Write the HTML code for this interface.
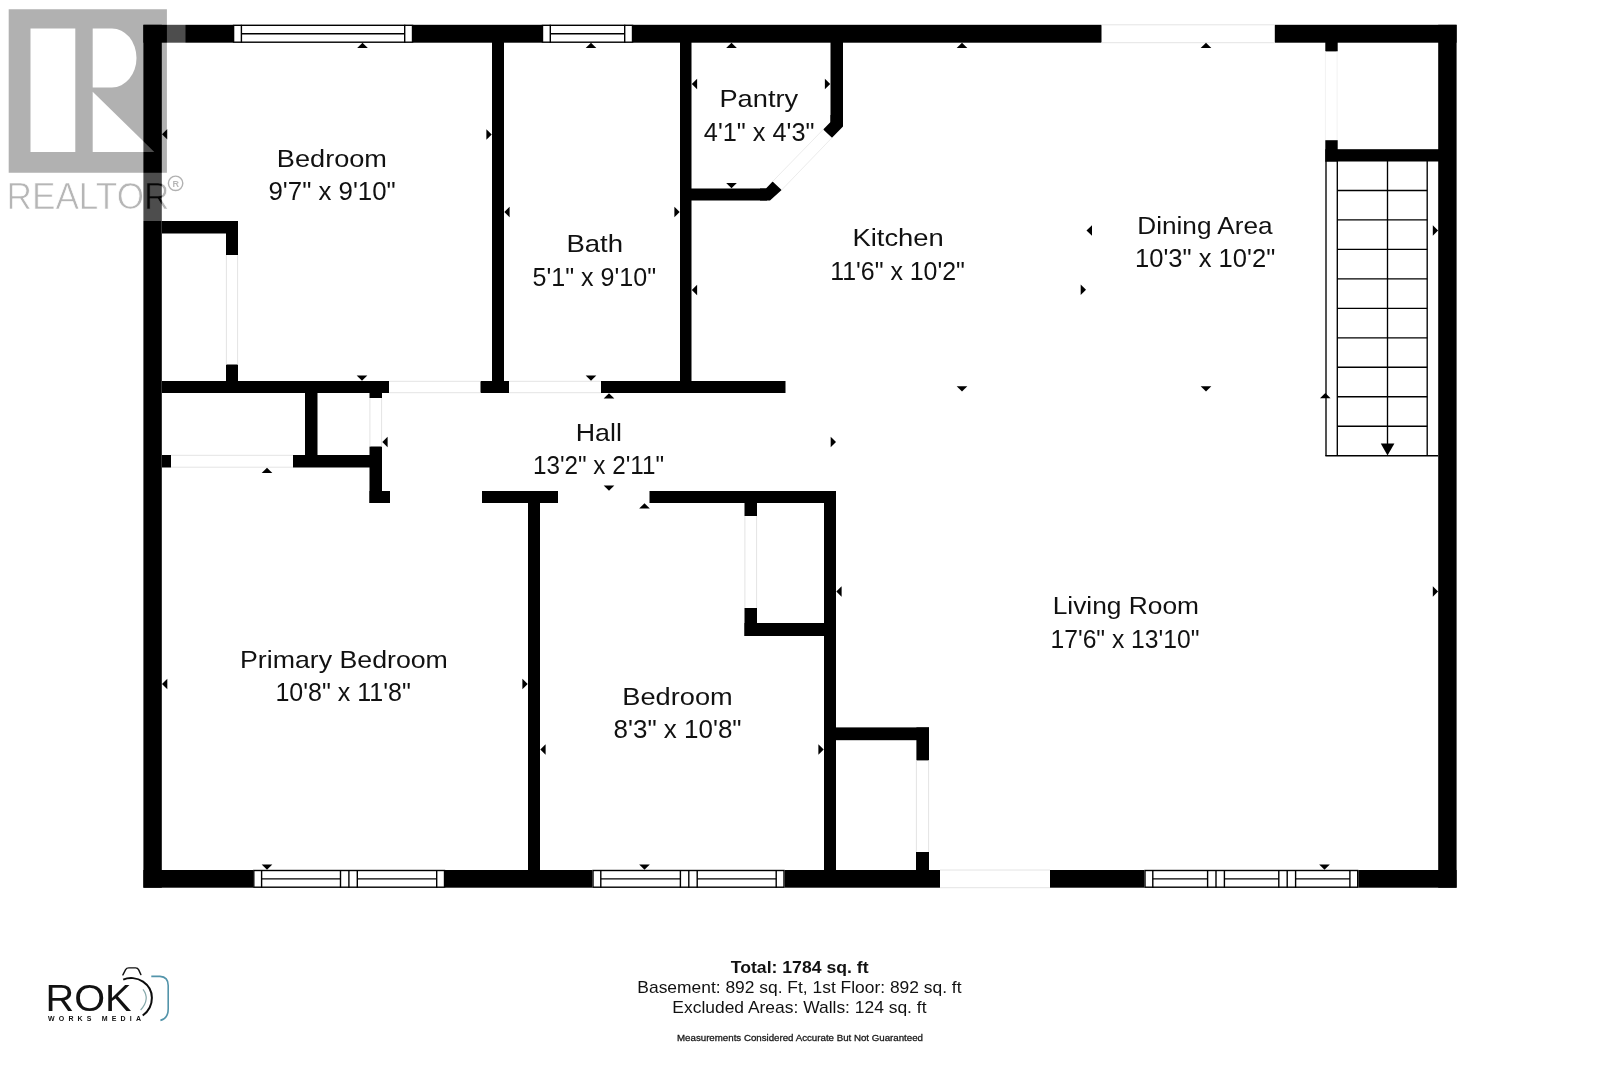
<!DOCTYPE html>
<html lang="en"><head><meta charset="utf-8"><title>Floor plan</title>
<style>
html,body{margin:0;padding:0;background:#fff;}
body{width:1600px;height:1067px;overflow:hidden;}
svg{display:block;will-change:transform;}
text{font-family:"Liberation Sans","DejaVu Sans",sans-serif;fill:#111;}
</style></head><body>
<svg width="1600" height="1067" viewBox="0 0 1600 1067">
<rect width="1600" height="1067" fill="#fff"/>
<g shape-rendering="auto">
<rect x="143.4" y="24.8" width="89.7" height="17.9" fill="#000"/>
<rect x="413" y="24.8" width="129" height="17.9" fill="#000"/>
<rect x="633" y="24.8" width="468.5" height="17.9" fill="#000"/>
<rect x="1274.8" y="24.8" width="181.8" height="17.9" fill="#000"/>
<rect x="143.4" y="870" width="109.9" height="17.7" fill="#000"/>
<rect x="445" y="870" width="147.5" height="17.7" fill="#000"/>
<rect x="784.5" y="870" width="155.5" height="17.7" fill="#000"/>
<rect x="1050" y="870" width="94.5" height="17.7" fill="#000"/>
<rect x="1358.2" y="870" width="98.4" height="17.7" fill="#000"/>
<rect x="143.4" y="24.8" width="18.4" height="862.9" fill="#000"/>
<rect x="1438.2" y="24.8" width="18.4" height="862.9" fill="#000"/>
<rect x="233.1" y="24.8" width="179.9" height="17.9" fill="#fff"/>
<rect x="233.6" y="25.3" width="178.9" height="16.9" fill="none" stroke="#000" stroke-width="1.4"/>
<line x1="241.4" y1="24.8" x2="241.4" y2="42.7" stroke="#000" stroke-width="1.4"/>
<line x1="404.7" y1="24.8" x2="404.7" y2="42.7" stroke="#000" stroke-width="1.4"/>
<line x1="241.4" y1="33.75" x2="404.7" y2="33.75" stroke="#000" stroke-width="1.4"/>
<rect x="542" y="24.8" width="91" height="17.9" fill="#fff"/>
<rect x="542.5" y="25.3" width="90" height="16.9" fill="none" stroke="#000" stroke-width="1.4"/>
<line x1="550.3" y1="24.8" x2="550.3" y2="42.7" stroke="#000" stroke-width="1.4"/>
<line x1="624.7" y1="24.8" x2="624.7" y2="42.7" stroke="#000" stroke-width="1.4"/>
<line x1="550.3" y1="33.75" x2="624.7" y2="33.75" stroke="#000" stroke-width="1.4"/>
<rect x="253.3" y="870" width="191.7" height="17.7" fill="#fff"/>
<rect x="253.8" y="870.5" width="190.7" height="16.7" fill="none" stroke="#000" stroke-width="1.4"/>
<line x1="261.6" y1="870" x2="261.6" y2="887.7" stroke="#000" stroke-width="1.4"/>
<line x1="340.5" y1="870" x2="340.5" y2="887.7" stroke="#000" stroke-width="1.4"/>
<line x1="348.9" y1="870" x2="348.9" y2="887.7" stroke="#000" stroke-width="1.4"/>
<line x1="357.3" y1="870" x2="357.3" y2="887.7" stroke="#000" stroke-width="1.4"/>
<line x1="436.7" y1="870" x2="436.7" y2="887.7" stroke="#000" stroke-width="1.4"/>
<line x1="261.6" y1="878.85" x2="340.5" y2="878.85" stroke="#000" stroke-width="1.4"/>
<line x1="357.3" y1="878.85" x2="436.7" y2="878.85" stroke="#000" stroke-width="1.4"/>
<rect x="592.5" y="870" width="192" height="17.7" fill="#fff"/>
<rect x="593" y="870.5" width="191" height="16.7" fill="none" stroke="#000" stroke-width="1.4"/>
<line x1="600.8" y1="870" x2="600.8" y2="887.7" stroke="#000" stroke-width="1.4"/>
<line x1="680.4" y1="870" x2="680.4" y2="887.7" stroke="#000" stroke-width="1.4"/>
<line x1="688.8" y1="870" x2="688.8" y2="887.7" stroke="#000" stroke-width="1.4"/>
<line x1="697.2" y1="870" x2="697.2" y2="887.7" stroke="#000" stroke-width="1.4"/>
<line x1="776.2" y1="870" x2="776.2" y2="887.7" stroke="#000" stroke-width="1.4"/>
<line x1="600.8" y1="878.85" x2="680.4" y2="878.85" stroke="#000" stroke-width="1.4"/>
<line x1="697.2" y1="878.85" x2="776.2" y2="878.85" stroke="#000" stroke-width="1.4"/>
<rect x="1144.5" y="870" width="213.7" height="17.7" fill="#fff"/>
<rect x="1145" y="870.5" width="212.7" height="16.7" fill="none" stroke="#000" stroke-width="1.4"/>
<line x1="1152.8" y1="870" x2="1152.8" y2="887.7" stroke="#000" stroke-width="1.4"/>
<line x1="1207.6" y1="870" x2="1207.6" y2="887.7" stroke="#000" stroke-width="1.4"/>
<line x1="1216" y1="870" x2="1216" y2="887.7" stroke="#000" stroke-width="1.4"/>
<line x1="1224.4" y1="870" x2="1224.4" y2="887.7" stroke="#000" stroke-width="1.4"/>
<line x1="1278.8" y1="870" x2="1278.8" y2="887.7" stroke="#000" stroke-width="1.4"/>
<line x1="1287.2" y1="870" x2="1287.2" y2="887.7" stroke="#000" stroke-width="1.4"/>
<line x1="1295.6" y1="870" x2="1295.6" y2="887.7" stroke="#000" stroke-width="1.4"/>
<line x1="1349.9" y1="870" x2="1349.9" y2="887.7" stroke="#000" stroke-width="1.4"/>
<line x1="1152.8" y1="878.85" x2="1207.6" y2="878.85" stroke="#000" stroke-width="1.4"/>
<line x1="1224.4" y1="878.85" x2="1278.8" y2="878.85" stroke="#000" stroke-width="1.4"/>
<line x1="1295.6" y1="878.85" x2="1349.9" y2="878.85" stroke="#000" stroke-width="1.4"/>
<line x1="1101.5" y1="24.8" x2="1274.8" y2="24.8" stroke="#e4e4e4" stroke-width="1"/>
<line x1="1101.5" y1="42.7" x2="1274.8" y2="42.7" stroke="#e4e4e4" stroke-width="1"/>
<line x1="940" y1="870" x2="1050" y2="870" stroke="#e4e4e4" stroke-width="1"/>
<line x1="940" y1="887.7" x2="1050" y2="887.7" stroke="#e4e4e4" stroke-width="1"/>
<rect x="492" y="42" width="12" height="351" fill="#000"/>
<rect x="680" y="42" width="11.5" height="351" fill="#000"/>
<rect x="691" y="188.5" width="76" height="12" fill="#000"/>
<polygon points="766,188.5 772.6,181.5 781.6,190 770,200.5 760,200.5 760,188.5" fill="#000"/>
<rect x="830.5" y="42" width="12.5" height="81" fill="#000"/>
<polygon points="830.5,115 830.5,122 823.2,129.5 832,137.7 843,126.4 843,115" fill="#000"/>
<line x1="823.2" y1="129.5" x2="772.6" y2="181.5" stroke="#ececec" stroke-width="1"/>
<line x1="832" y1="137.7" x2="781.6" y2="190" stroke="#ececec" stroke-width="1"/>
<rect x="162" y="381" width="227" height="12" fill="#000"/>
<rect x="480.5" y="381" width="28.5" height="12" fill="#000"/>
<rect x="601" y="381" width="184.5" height="12" fill="#000"/>
<line x1="389" y1="381.3" x2="480.5" y2="381.3" stroke="#e4e4e4" stroke-width="1"/>
<line x1="389" y1="392.7" x2="480.5" y2="392.7" stroke="#e4e4e4" stroke-width="1"/>
<line x1="509" y1="381.3" x2="601" y2="381.3" stroke="#e4e4e4" stroke-width="1"/>
<line x1="509" y1="392.7" x2="601" y2="392.7" stroke="#e4e4e4" stroke-width="1"/>
<rect x="162" y="221" width="76" height="12.5" fill="#000"/>
<rect x="226" y="221" width="12" height="34" fill="#000"/>
<rect x="226" y="364.5" width="12" height="17.5" fill="#000"/>
<line x1="226.4" y1="255" x2="226.4" y2="364.5" stroke="#e4e4e4" stroke-width="1"/>
<line x1="237.6" y1="255" x2="237.6" y2="364.5" stroke="#e4e4e4" stroke-width="1"/>
<rect x="305" y="393" width="12.5" height="63" fill="#000"/>
<rect x="162" y="455" width="9" height="12.5" fill="#000"/>
<rect x="293" y="455" width="89" height="12.5" fill="#000"/>
<line x1="171" y1="455.3" x2="293" y2="455.3" stroke="#e4e4e4" stroke-width="1"/>
<line x1="171" y1="467.2" x2="293" y2="467.2" stroke="#e4e4e4" stroke-width="1"/>
<rect x="369.5" y="393" width="12.5" height="5" fill="#000"/>
<rect x="369.5" y="446.5" width="12.5" height="56.5" fill="#000"/>
<rect x="369.5" y="491" width="20.5" height="12" fill="#000"/>
<line x1="369.9" y1="398" x2="369.9" y2="446.5" stroke="#e4e4e4" stroke-width="1"/>
<line x1="381.6" y1="398" x2="381.6" y2="446.5" stroke="#e4e4e4" stroke-width="1"/>
<rect x="482" y="491" width="76" height="12" fill="#000"/>
<rect x="649.5" y="491" width="186.5" height="12" fill="#000"/>
<rect x="528" y="503" width="12" height="368" fill="#000"/>
<rect x="824" y="491" width="12" height="380" fill="#000"/>
<rect x="744.5" y="503" width="12.5" height="13" fill="#000"/>
<rect x="744.5" y="608" width="12.5" height="28" fill="#000"/>
<rect x="744.5" y="623" width="80.5" height="13" fill="#000"/>
<line x1="744.9" y1="516" x2="744.9" y2="608" stroke="#e4e4e4" stroke-width="1"/>
<line x1="756.6" y1="516" x2="756.6" y2="608" stroke="#e4e4e4" stroke-width="1"/>
<rect x="835" y="727.4" width="94" height="12.8" fill="#000"/>
<rect x="916.4" y="727.4" width="12.6" height="33" fill="#000"/>
<rect x="916" y="852" width="13" height="19" fill="#000"/>
<line x1="916.4" y1="760.5" x2="916.4" y2="852" stroke="#e4e4e4" stroke-width="1"/>
<line x1="928.6" y1="760.5" x2="928.6" y2="852" stroke="#e4e4e4" stroke-width="1"/>
<rect x="1325.3" y="42" width="12.4" height="9.4" fill="#000"/>
<rect x="1325.3" y="140.2" width="12.4" height="21.3" fill="#000"/>
<rect x="1325.3" y="149.2" width="113.7" height="12.3" fill="#000"/>
<line x1="1325.4" y1="51.5" x2="1325.4" y2="140" stroke="#f2f2f2" stroke-width="1"/>
<line x1="1337.1" y1="51.5" x2="1337.1" y2="140" stroke="#f2f2f2" stroke-width="1"/>
<line x1="1326" y1="161" x2="1326" y2="456" stroke="#000" stroke-width="1.35"/>
<line x1="1337.3" y1="161" x2="1337.3" y2="456" stroke="#000" stroke-width="1.35"/>
<line x1="1387.5" y1="161" x2="1387.5" y2="446" stroke="#000" stroke-width="1.35"/>
<line x1="1427.2" y1="161" x2="1427.2" y2="456" stroke="#000" stroke-width="1.35"/>
<line x1="1325.4" y1="455.7" x2="1438" y2="455.7" stroke="#000" stroke-width="1.35"/>
<line x1="1337.3" y1="190.47" x2="1427.2" y2="190.47" stroke="#000" stroke-width="1.35"/>
<line x1="1337.3" y1="219.94" x2="1427.2" y2="219.94" stroke="#000" stroke-width="1.35"/>
<line x1="1337.3" y1="249.41" x2="1427.2" y2="249.41" stroke="#000" stroke-width="1.35"/>
<line x1="1337.3" y1="278.88" x2="1427.2" y2="278.88" stroke="#000" stroke-width="1.35"/>
<line x1="1337.3" y1="308.35" x2="1427.2" y2="308.35" stroke="#000" stroke-width="1.35"/>
<line x1="1337.3" y1="337.82" x2="1427.2" y2="337.82" stroke="#000" stroke-width="1.35"/>
<line x1="1337.3" y1="367.29" x2="1427.2" y2="367.29" stroke="#000" stroke-width="1.35"/>
<line x1="1337.3" y1="396.76" x2="1427.2" y2="396.76" stroke="#000" stroke-width="1.35"/>
<line x1="1337.3" y1="426.23" x2="1427.2" y2="426.23" stroke="#000" stroke-width="1.35"/>
<polygon points="1387.5,455.5 1380.8,443.5 1394.4,443.5" fill="#000"/>
<polygon points="362.5,42.8 357.2,48.1 367.8,48.1" fill="#000"/>
<polygon points="591,42.8 585.7,48.1 596.3,48.1" fill="#000"/>
<polygon points="731.5,42.8 726.2,48.1 736.8,48.1" fill="#000"/>
<polygon points="962,42.8 956.7,48.1 967.3,48.1" fill="#000"/>
<polygon points="1206,42.8 1200.7,48.1 1211.3,48.1" fill="#000"/>
<polygon points="162,134.2 167.3,128.9 167.3,139.5" fill="#000"/>
<polygon points="491.7,134.5 486.4,129.2 486.4,139.8" fill="#000"/>
<polygon points="504.3,212 509.6,206.7 509.6,217.3" fill="#000"/>
<polygon points="679.7,212 674.4,206.7 674.4,217.3" fill="#000"/>
<polygon points="691.8,84 697.1,78.7 697.1,89.3" fill="#000"/>
<polygon points="830.2,84 824.9,78.7 824.9,89.3" fill="#000"/>
<polygon points="731.5,188.2 726.2,182.9 736.8,182.9" fill="#000"/>
<polygon points="691.8,290 697.1,284.7 697.1,295.3" fill="#000"/>
<polygon points="1086,289.7 1080.7,284.4 1080.7,295" fill="#000"/>
<polygon points="362,380.7 356.7,375.4 367.3,375.4" fill="#000"/>
<polygon points="591,380.7 585.7,375.4 596.3,375.4" fill="#000"/>
<polygon points="609,393.3 603.7,398.6 614.3,398.6" fill="#000"/>
<polygon points="609,490.7 603.7,485.4 614.3,485.4" fill="#000"/>
<polygon points="644.5,503.3 639.2,508.6 649.8,508.6" fill="#000"/>
<polygon points="267,467.8 261.7,473.1 272.3,473.1" fill="#000"/>
<polygon points="382.3,442 387.6,436.7 387.6,447.3" fill="#000"/>
<polygon points="836,442 830.7,436.7 830.7,447.3" fill="#000"/>
<polygon points="962,391.5 956.7,386.2 967.3,386.2" fill="#000"/>
<polygon points="1206,391.5 1200.7,386.2 1211.3,386.2" fill="#000"/>
<polygon points="1325.3,393 1320,398.3 1330.6,398.3" fill="#000"/>
<polygon points="1438.1,230.5 1432.8,225.2 1432.8,235.8" fill="#000"/>
<polygon points="1438.1,591.5 1432.8,586.2 1432.8,596.8" fill="#000"/>
<polygon points="162,684 167.3,678.7 167.3,689.3" fill="#000"/>
<polygon points="527.7,684 522.4,678.7 522.4,689.3" fill="#000"/>
<polygon points="540.3,749.5 545.6,744.2 545.6,754.8" fill="#000"/>
<polygon points="823.7,749.5 818.4,744.2 818.4,754.8" fill="#000"/>
<polygon points="836.3,591.5 841.6,586.2 841.6,596.8" fill="#000"/>
<polygon points="267,869.7 261.7,864.4 272.3,864.4" fill="#000"/>
<polygon points="644.5,869.7 639.2,864.4 649.8,864.4" fill="#000"/>
<polygon points="1324.5,869.7 1319.2,864.4 1329.8,864.4" fill="#000"/>
<polygon points="1086.5,230.5 1092,225.2 1092,235.8" fill="#000"/>
</g>
<g opacity="0.999">
<text x="276.87" y="166.5" font-size="24.8" font-weight="400" textLength="110.13" lengthAdjust="spacingAndGlyphs" >Bedroom</text>
<text x="268.5" y="200" font-size="25" font-weight="400" textLength="127.27" lengthAdjust="spacingAndGlyphs" >9'7&quot; x 9'10&quot;</text>
<text x="566.41" y="252.2" font-size="24.8" font-weight="400" textLength="56.68" lengthAdjust="spacingAndGlyphs" >Bath</text>
<text x="532.6" y="285.9" font-size="25" font-weight="400" textLength="123.52" lengthAdjust="spacingAndGlyphs" >5'1&quot; x 9'10&quot;</text>
<text x="719.48" y="106.7" font-size="24.8" font-weight="400" textLength="78.64" lengthAdjust="spacingAndGlyphs" >Pantry</text>
<text x="703.88" y="140.5" font-size="25" font-weight="400" textLength="110.59" lengthAdjust="spacingAndGlyphs" >4'1&quot; x 4'3&quot;</text>
<text x="852.48" y="246.4" font-size="24.8" font-weight="400" textLength="91.34" lengthAdjust="spacingAndGlyphs" >Kitchen</text>
<text x="830.2" y="280" font-size="25" font-weight="400" textLength="134.71" lengthAdjust="spacingAndGlyphs" >11'6&quot; x 10'2&quot;</text>
<text x="1137.28" y="233.6" font-size="24.8" font-weight="400" textLength="135.31" lengthAdjust="spacingAndGlyphs" >Dining Area</text>
<text x="1135.04" y="267.3" font-size="25" font-weight="400" textLength="140.17" lengthAdjust="spacingAndGlyphs" >10'3&quot; x 10'2&quot;</text>
<text x="575.76" y="440.5" font-size="24.8" font-weight="400" textLength="46.2" lengthAdjust="spacingAndGlyphs" >Hall</text>
<text x="532.98" y="474.25" font-size="25" font-weight="400" textLength="131.06" lengthAdjust="spacingAndGlyphs" >13'2&quot; x 2'11&quot;</text>
<text x="239.99" y="667.6" font-size="24.8" font-weight="400" textLength="207.9" lengthAdjust="spacingAndGlyphs" >Primary Bedroom</text>
<text x="275.44" y="700.6" font-size="25" font-weight="400" textLength="135.37" lengthAdjust="spacingAndGlyphs" >10'8&quot; x 11'8&quot;</text>
<text x="622.34" y="704.6" font-size="24.8" font-weight="400" textLength="110.37" lengthAdjust="spacingAndGlyphs" >Bedroom</text>
<text x="613.59" y="738.1" font-size="25" font-weight="400" textLength="127.99" lengthAdjust="spacingAndGlyphs" >8'3&quot; x 10'8&quot;</text>
<text x="1052.71" y="613.7" font-size="24.8" font-weight="400" textLength="146.33" lengthAdjust="spacingAndGlyphs" >Living Room</text>
<text x="1050.51" y="648" font-size="25" font-weight="400" textLength="148.92" lengthAdjust="spacingAndGlyphs" >17'6&quot; x 13'10&quot;</text>
<text x="730.75" y="972.5" font-size="17" font-weight="700" textLength="137.77" lengthAdjust="spacingAndGlyphs" >Total: 1784 sq. ft</text>
<text x="637.39" y="993" font-size="17" font-weight="400" textLength="324.14" lengthAdjust="spacingAndGlyphs" >Basement: 892 sq. Ft, 1st Floor: 892 sq. ft</text>
<text x="672.38" y="1013" font-size="17" font-weight="400" textLength="254.12" lengthAdjust="spacingAndGlyphs" >Excluded Areas: Walls: 124 sq. ft</text>
<text x="677" y="1040.5" font-size="9.6" font-weight="400" textLength="246" lengthAdjust="spacingAndGlyphs" stroke="#222" stroke-width="0.3">Measurements Considered Accurate But Not Guaranteed</text>
</g>
<g opacity="0.999">
<text x="45.6" y="1010.5" font-size="36.5" textLength="86" lengthAdjust="spacingAndGlyphs" fill="#0a0a0a">ROK</text>
<text x="48" y="1020.7" font-size="7" font-weight="700" textLength="93" lengthAdjust="spacing" fill="#222">WORKS MEDIA</text>
<path d="M122.9,974.9 L125.6,969.6 Q126.6,967.9 128.8,967.9 H135.6 Q137.8,967.9 138.7,969.9 L140.9,974.6" fill="none" stroke="#111" stroke-width="1.4" stroke-linecap="round"/>
<path d="M123.2,979.6 C129,977.1 137,977.5 143,981.6 C148.5,985.3 151.9,991 151.9,997.8 C151.9,1005 148.5,1011.5 142.7,1015.5" fill="none" stroke="#0c0c0c" stroke-width="2"/>
<path d="M143,989.3 Q150.5,999 140.6,1010" fill="none" stroke="#86a9ab" stroke-width="1.2"/>
<path d="M151.3,976.4 H160 Q168.2,976.8 168.2,985.5 V1008.8 Q168.2,1018.6 160.4,1020.4" fill="none" stroke="#5394aa" stroke-width="1.6"/>
</g>
<g opacity="0.3">
<rect x="0" y="0" width="185.5" height="221" fill="#fff"/>
<path fill="#000" fill-rule="evenodd" d="M8.7,9.3H166.9V172.8H8.7Z M30.5,28.5H75.3V152H30.5Z M92.7,28.4H112A24.5,29.55 0 0 1 112,87.5H92.7Z M92.7,91.7L154.3,152.1H92.7Z"/>
<text x="6.5" y="208.7" font-size="36" textLength="163" lengthAdjust="spacingAndGlyphs" fill="#000" stroke="#fff" stroke-width="0.7">REALTOR</text>
<circle cx="175.6" cy="183.3" r="7.2" fill="none" stroke="#000" stroke-width="1.4"/>
<text x="172.6" y="186.8" font-size="9" font-weight="700" fill="#000">R</text>
</g>
</svg>
</body></html>
